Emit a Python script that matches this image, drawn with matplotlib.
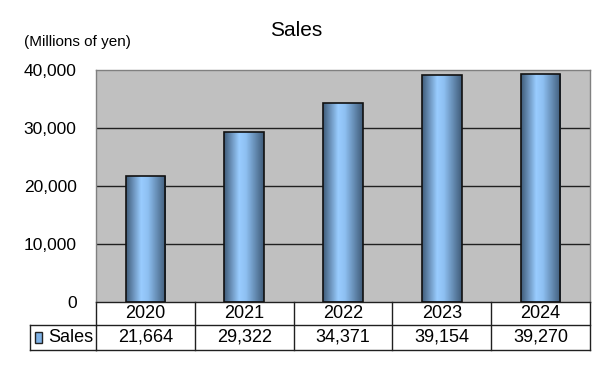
import matplotlib.pyplot as plt
import numpy as np
from matplotlib.colors import LinearSegmentedColormap
from matplotlib.patches import Rectangle

years = ['2020', '2021', '2022', '2023', '2024']
sales = [21664, 29322, 34371, 39154, 39270]
y_ticks = [0, 10000, 20000, 30000, 40000]

plt.rcParams['font.family'] = ['Liberation Sans', 'DejaVu Sans']

W, H = 609, 371
fig = plt.figure(figsize=(W / 100, H / 100), dpi=100)

# plot area in pixels
px_left, px_right, px_top, px_bottom = 96, 590, 70, 302
ax = fig.add_axes([px_left / W, 1 - px_bottom / H,
                   (px_right - px_left) / W, (px_bottom - px_top) / H])
ax.set_facecolor('#c0c0c0')

for v in y_ticks[1:-1]:
    ax.axhline(v, color='#202020', lw=1, zorder=1)

for s in ax.spines.values():
    s.set_color('#808080')
    s.set_linewidth(1)
ax.spines['bottom'].set_color('#202020')

ax.set_yticks(y_ticks)
ax.set_yticklabels([f'{v:,}' for v in y_ticks], fontsize=12.5)
ax.tick_params(axis='y', length=0, pad=14)
ax.set_xticks([])

cmap = LinearSegmentedColormap.from_list(
    'cyl', [(0, '#3f5b78'), (0.38, '#99ccff'), (0.55, '#8ec0f2'), (1, '#3f5b78')])
grad = np.linspace(0, 1, 256).reshape(1, -1)

bar_w = 0.4
bars = ax.bar(range(len(years)), sales, width=bar_w, color='none',
              edgecolor='#111111', linewidth=1.2, zorder=3)
for b in bars:
    im = ax.imshow(grad, cmap=cmap, aspect='auto', zorder=2,
                   extent=[b.get_x(), b.get_x() + b.get_width(), 0, b.get_height()])
    im.set_clip_path(b)
ax.set_xlim(-0.5, len(years) - 0.5)
ax.set_ylim(0, 40000)

# title and unit label
fig.text(296 / W, 1 - 31 / H, 'Sales', ha='center', va='center', fontsize=15)
fig.text(24 / W, 1 - 42 / H, '(Millions of yen)', ha='left', va='center', fontsize=11)

# data table below the plot
ph = px_bottom - px_top
def ay(py):
    return (px_bottom - py) / ph

row1, row2 = 325, 350
tr = ax.get_xaxis_transform()
line_kw = dict(color='#202020', lw=1, clip_on=False)
ax.plot([-0.5, len(years) - 0.5], [ay(row1)] * 2, transform=tr, **line_kw)
ax.plot([-0.5, len(years) - 0.5], [ay(row2)] * 2, transform=tr, **line_kw)
for i in range(len(years) + 1):
    ax.plot([i - 0.5, i - 0.5], [0, ay(row2)], transform=tr, **line_kw)

# legend cell to the left
fx = lambda px: px / W
fy = lambda py: 1 - py / H
fig.add_artist(plt.Line2D([fx(30), fx(px_left)], [fy(row1)] * 2, color='#202020', lw=1))
fig.add_artist(plt.Line2D([fx(30), fx(px_left)], [fy(row2)] * 2, color='#202020', lw=1))
fig.add_artist(plt.Line2D([fx(30), fx(30)], [fy(row1), fy(row2)], color='#202020', lw=1))
fig.add_artist(Rectangle((fx(35), fy(343)), fx(7), 11 / H, facecolor='#7fb2e6',
                         edgecolor='#222222', lw=1))
fig.text(fx(48), fy(338), 'Sales', ha='left', va='center', fontsize=13)

for i, (yr, v) in enumerate(zip(years, sales)):
    ax.text(i, ay((px_bottom + row1) / 2), yr, transform=tr,
            ha='center', va='center', fontsize=13)
    ax.text(i, ay((row1 + row2) / 2), f'{v:,}', transform=tr,
            ha='center', va='center', fontsize=13)

fig.savefig('out.png', dpi=100)
